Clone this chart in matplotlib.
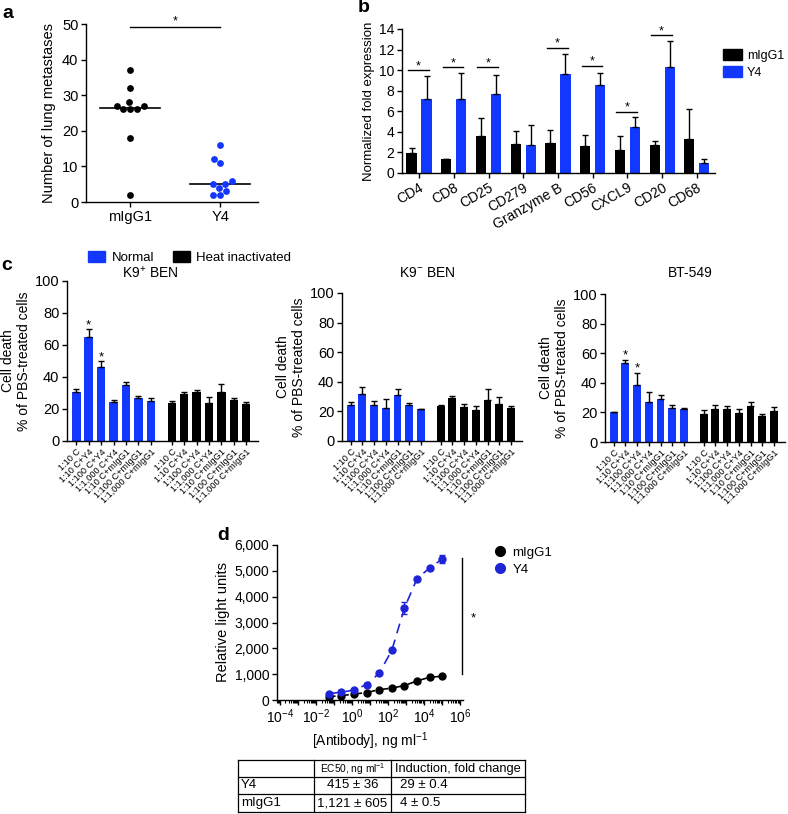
import numpy as np
import matplotlib
matplotlib.use('Agg')
import matplotlib.pyplot as plt
import matplotlib.transforms as mtransforms
from matplotlib import ticker
from matplotlib.patches import Patch
from matplotlib.lines import Line2D

# ---- data ----
# a: lung metastases per mouse
a_groups = ['mIgG1', 'Y4']
a_migg1 = [37, 32, 27, 26, 26, 26, 27, 28, 18, 2]
a_y4 = [16, 11, 12, 5, 5, 6, 3, 2, 2, 4]

# b: normalized fold expression (mean, upper error)
b_genes = ['CD4', 'CD8', 'CD25', 'CD279', 'Granzyme B', 'CD56', 'CXCL9', 'CD20', 'CD68']
b_migg1 = [1.9, 1.35, 3.55, 2.8, 2.9, 2.65, 2.25, 2.7, 3.35]
b_migg1_err = [0.55, 0.05, 1.75, 1.3, 1.25, 1.0, 1.3, 0.4, 2.85]
b_y4 = [7.2, 7.15, 7.7, 2.75, 9.6, 8.55, 4.45, 10.3, 0.95]
b_y4_err = [2.2, 2.6, 1.85, 1.95, 1.95, 1.2, 1.0, 2.55, 0.4]
b_sig = {'CD4': 10.0, 'CD8': 10.3, 'CD25': 10.3, 'Granzyme B': 12.2,
         'CD56': 10.4, 'CXCL9': 5.95, 'CD20': 13.4}

# c: cell death, % of PBS-treated cells
c_labels = ['1:10 C', '1:10 C+Y4', '1:100 C+Y4', '1:1,000 C+Y4',
            '1:10 C+mIgG1', '1:100 C+mIgG1', '1:1,000 C+mIgG1']
c_titles = ['K9$^{+}$ BEN', 'K9$^{-}$ BEN', 'BT-549']
c_normal = [[30.7, 65.2, 46.3, 24.6, 35.0, 26.8, 25.1],
            [24.4, 32.0, 24.2, 22.5, 30.8, 24.1, 21.6],
            [20.2, 53.5, 38.2, 27.3, 29.3, 23.0, 22.0]]
c_normal_err = [[1.8, 4.5, 3.7, 1.3, 1.7, 1.1, 1.6],
                [1.7, 4.6, 2.9, 5.7, 4.3, 1.8, 0.3],
                [0.3, 2.0, 8.6, 6.3, 2.5, 1.8, 1.2]]
c_heat = [[24.0, 29.4, 30.8, 23.5, 30.8, 25.4, 23.3],
          [23.6, 28.9, 23.0, 21.1, 27.7, 25.2, 22.0],
          [18.9, 22.3, 22.5, 19.8, 24.3, 17.7, 21.1]]
c_heat_err = [[0.9, 1.5, 1.0, 3.9, 4.9, 1.3, 1.1],
              [0.9, 1.6, 1.8, 2.3, 7.3, 4.6, 1.6],
              [2.7, 2.5, 1.6, 2.2, 2.5, 1.4, 2.3]]
c_stars = [{1: 72, 2: 52}, {}, {1: 58.5, 2: 49.5}]

# d: luciferase reporter, relative light units
d_dose = [0.0512, 0.256, 1.28, 6.4, 32, 160, 800, 4000, 20000, 100000]
d_y4 = [250, 300, 390, 600, 1040, 1930, 3570, 4700, 5110, 5460]
d_y4_err = [20, 30, 40, 40, 40, 50, 230, 80, 40, 150]
d_migg1 = [130, 170, 230, 290, 400, 460, 560, 740, 880, 920]
d_migg1_err = [20, 20, 20, 20, 20, 20, 30, 30, 30, 20]

t_header = ['', 'EC50, ng ml$^{-1}$', 'Induction, fold change']
t_rows = [['Y4', '415 ± 36', '29 ± 0.4'],
          ['mIgG1', '1,121 ± 605', '4 ± 0.5']]

# ---- style ----
plt.rcParams['font.family'] = ['Liberation Sans', 'DejaVu Sans']
plt.rcParams['font.size'] = 10
plt.rcParams['axes.linewidth'] = 1.0
plt.rcParams['mathtext.fontset'] = 'custom'
plt.rcParams['mathtext.rm'] = 'Liberation Sans'
plt.rcParams['mathtext.it'] = 'Liberation Sans:italic'
plt.rcParams['axes.unicode_minus'] = True

BLUE = '#1238ff'
DBLUE = '#1f24d6'
W, H = 788, 814
fig = plt.figure(figsize=(W / 100, H / 100), dpi=100)


def add_ax(x0, y0, x1, y1):
    return fig.add_axes([x0 / W, 1 - y1 / H, (x1 - x0) / W, (y1 - y0) / H])


def style(ax, size=10):
    for s in ('top', 'right'):
        ax.spines[s].set_visible(False)
    ax.tick_params(direction='out', length=3.5, width=1, labelsize=size, pad=2)


def swarm(vals, px_per_y, diam):
    # greedy beeswarm offsets in pixels
    vals = np.asarray(vals, float)
    xs = np.zeros(len(vals))
    placed = []
    for i in np.argsort(vals, kind='stable'):
        y = vals[i] * px_per_y
        cands = [0.0]
        for (px, py) in placed:
            dy = abs(py - y)
            if dy < diam:
                dx = np.sqrt(diam ** 2 - dy ** 2) + 0.01
                cands += [px + dx, px - dx]
        cands.sort(key=lambda c: (abs(c), c))
        for c in cands:
            if all((c - px) ** 2 + (y - py) ** 2 >= diam ** 2 - 1e-6 for px, py in placed):
                xs[i] = c
                placed.append((c, y))
                break
    return xs


def label(x, y, s):
    fig.text(x / W, 1 - y / H, s, fontsize=14, fontweight='bold', va='center', ha='left')


# ---- a ----
ax = add_ax(86, 24, 258, 202)
style(ax, 10.5)
for k, (vals, col) in enumerate([(a_migg1, 'black'), (a_y4, BLUE)]):
    offs = swarm(vals, 178 / 50, 7.2)
    ax.scatter(k + offs / 90, vals, s=24, color=col, linewidths=0, zorder=3)
    med = np.median(vals)
    ax.plot([k - 0.33, k + 0.33], [med, med], color='black', lw=1.2)
ax.plot([0, 1], [49.2, 49.2], color='black', lw=1, clip_on=False)
ax.text(0.5, 50.8, '*', ha='center', va='center', fontsize=9)
ax.set_xlim(-0.49, 1.42)
ax.set_ylim(0, 50)
ax.set_yticks(range(0, 51, 10))
ax.set_xticks([0, 1])
ax.set_xticklabels(a_groups)
ax.set_ylabel('Number of lung metastases', fontsize=10.5, labelpad=4)
label(2, 13, 'a')

# ---- b ----
ax = add_ax(402, 29, 715, 173)
style(ax, 10)
x = np.arange(len(b_genes))
ekw = dict(ecolor='black', elinewidth=1, capsize=2.5, capthick=1)
ax.bar(x - 0.216, b_migg1, 0.29, color='black', yerr=[np.zeros(9), b_migg1_err], error_kw=ekw)
ax.bar(x + 0.216, b_y4, 0.29, color=BLUE, yerr=[np.zeros(9), b_y4_err], error_kw=ekw)
for g, h in b_sig.items():
    i = b_genes.index(g)
    ax.plot([i - 0.32, i + 0.28], [h, h], color='black', lw=1)
    ax.text(i - 0.02, h + 0.4, '*', ha='center', va='center', fontsize=9)
ax.set_xlim(-0.49, 8.52)
ax.set_ylim(0, 14)
ax.set_yticks(range(0, 15, 2))
ax.set_xticks(x)
ax.set_xticklabels(b_genes, rotation=30, ha='right', rotation_mode='anchor', fontsize=10)
ax.set_ylabel('Normalized fold expression', fontsize=9.5, labelpad=3)
fig.legend(handles=[Patch(color='black', label='mIgG1'), Patch(color=BLUE, label='Y4')],
           loc='upper left', bbox_to_anchor=(712 / W, 1 - 38 / H), frameon=False,
           fontsize=9, handlelength=1.5, handleheight=1.0, handletextpad=0.4, labelspacing=0.3)
label(358, 8, 'b')

# ---- c ----
fig.legend(handles=[Patch(color=BLUE, label='Normal'), Patch(color='black', label='Heat inactivated')],
           loc='upper left', bbox_to_anchor=(76 / W, 1 - 239 / H), frameon=False, ncol=2,
           fontsize=9.5, handlelength=1.3, handleheight=0.9, handletextpad=0.5, columnspacing=1.4)
label(1, 265, 'c')
c_boxes = [(67, 281, 258, 441), (342, 293, 522, 441), (605, 294, 785, 442)]
c_title_x = [150, 427, 690]
pos_n = np.arange(7)
pos_h = np.arange(7) + 7.7
for p in range(3):
    ax = add_ax(*c_boxes[p])
    style(ax, 10.5)
    ax.bar(pos_n, c_normal[p], 0.68, color=BLUE, yerr=[np.zeros(7), c_normal_err[p]], error_kw=ekw)
    ax.bar(pos_h, c_heat[p], 0.68, color='black', yerr=[np.zeros(7), c_heat_err[p]], error_kw=ekw)
    for i, h in c_stars[p].items():
        ax.text(pos_n[i], h, '*', ha='center', va='center', fontsize=9.5)
    ax.set_xlim(-0.75, 14.65)
    ax.set_ylim(0, 100)
    ax.set_yticks(range(0, 101, 20))
    ax.set_xticks(np.concatenate([pos_n, pos_h]))
    ax.set_xticklabels(c_labels * 2, rotation=45, ha='right', rotation_mode='anchor', fontsize=6.6)
    ax.tick_params(axis='x', length=3, pad=1.5)
    ax.set_ylabel('Cell death\n% of PBS-treated cells', fontsize=10, labelpad=3, linespacing=1.1)
    fig.text(c_title_x[p] / W, 1 - 273 / H, c_titles[p], ha='center', va='center', fontsize=10)

# ---- d ----
ax = add_ax(277, 545, 463, 700)
style(ax, 10)
ax.set_xscale('log')
ax.plot(d_dose, d_migg1, color='black', lw=1.2, dashes=(4, 4))
ax.errorbar(d_dose, d_migg1, yerr=d_migg1_err, fmt='o', ms=5, color='black', capsize=2, elinewidth=1)
ax.plot(d_dose, d_y4, color=DBLUE, lw=1.2, dashes=(6, 4))
ax.errorbar(d_dose, d_y4, yerr=d_y4_err, fmt='o', ms=5, color=DBLUE, capsize=2, elinewidth=1)
ax.set_xlim(10 ** -4.17, 10 ** 6.15)
ax.set_ylim(0, 6000)
ax.set_yticks(range(0, 6001, 1000))
ax.yaxis.set_major_formatter(ticker.FuncFormatter(lambda v, _: f'{v:,.0f}'))
ax.xaxis.set_major_locator(ticker.LogLocator(base=10, numticks=30))
ax.xaxis.set_minor_locator(ticker.LogLocator(base=10, subs=np.arange(2, 10), numticks=200))
ax.xaxis.set_minor_formatter(ticker.NullFormatter())


def even_pow(v, _):
    e = int(round(np.log10(v)))
    return f'$10^{{{e}}}$' if e % 2 == 0 else ''


ax.xaxis.set_major_formatter(ticker.FuncFormatter(even_pow))
ax.tick_params(axis='x', which='minor', length=2, width=0.8)
ax.set_xlabel('[Antibody], ng ml$^{-1}$', fontsize=10, labelpad=3)
ax.set_ylabel('Relative light units', fontsize=10.5, labelpad=3)
tr = mtransforms.blended_transform_factory(ax.transAxes, ax.transData)
ax.plot([0.993, 0.993], [1000, 5500], color='black', lw=1, transform=tr, clip_on=False)
ax.text(1.058, 3150, '*', transform=tr, ha='center', va='center', fontsize=9.5)
fig.legend(handles=[Line2D([], [], marker='o', ls='', color='black', ms=7, label='mIgG1'),
                    Line2D([], [], marker='o', ls='', color=DBLUE, ms=7, label='Y4')],
           loc='upper left', bbox_to_anchor=(482 / W, 1 - 535 / H), frameon=False,
           fontsize=9.5, handlelength=1.0, handletextpad=0.4, labelspacing=0.35)
label(217, 535, 'd')

# ---- table ----
ax = add_ax(238, 760, 525, 812)
ax.set_xlim(0, 287)
ax.set_ylim(52, 0)
ax.axis('off')
cols = [0, 76, 153, 287]
rows = [0, 17, 34, 52]
for c in cols:
    ax.plot([c, c], [0, 52], color='black', lw=0.9, clip_on=False)
for r in rows:
    ax.plot([0, 287], [r, r], color='black', lw=0.9, clip_on=False)
ax.text(114.5, 9, t_header[1], ha='center', va='center', fontsize=7.3)
ax.text(220, 9, t_header[2], ha='center', va='center', fontsize=9.3)
for j, row in enumerate(t_rows):
    yc = (rows[j + 1] + rows[j + 2]) / 2
    ax.text(3, yc, row[0], ha='left', va='center', fontsize=9.5)
    ax.text(114.5, yc, row[1], ha='center', va='center', fontsize=9.5)
    ax.text(162, yc, row[2], ha='left', va='center', fontsize=9.5)

fig.savefig('out.png', dpi=100)
